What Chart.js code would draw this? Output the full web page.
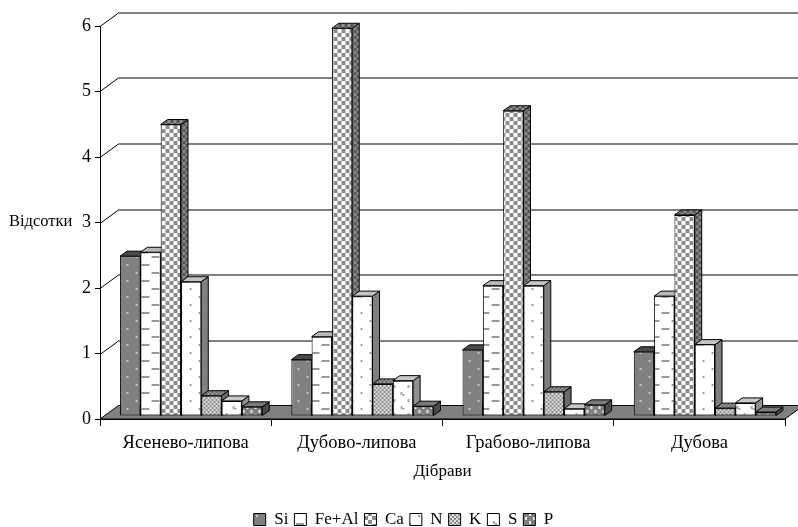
<!DOCTYPE html>
<html>
<head>
<meta charset="utf-8">
<style>
  html, body { margin: 0; padding: 0; background: #fff; }
  canvas { display: block; }
</style>
<script src="https://cdn.jsdelivr.net/npm/chart.js@4"></script>
</head>
<body>
<canvas id="chart" width="798" height="527"></canvas>
<script>
const categories = ['Ясенево-липова', 'Дубово-липова', 'Грабово-липова', 'Дубова'];
const si   = [2.44, 0.86, 1.01, 0.98];
const feAl = [2.50, 1.21, 1.99, 1.83];
const ca   = [4.45, 5.92, 4.66, 3.07];
const n    = [2.05, 1.83, 1.99, 1.09];
const k    = [0.31, 0.49, 0.37, 0.12];
const s    = [0.23, 0.54, 0.11, 0.20];
const p    = [0.14, 0.15, 0.17, 0.06];

const FONT = 'Liberation Serif, Times New Roman, serif';
// offset of the bars from the front edge of the floor, and their own depth
const BAR_SHIFT = { x: 5.5, y: -3 };
const BAR_DEPTH = { x: 7, y: -5 };
// depth of the whole plot box
const WALL_DEPTH = { x: 18.5, y: -13.5 };

function tile(w, h, bg, paint) {
    const c = document.createElement('canvas');
    c.width = w;
    c.height = h;
    const g = c.getContext('2d');
    g.fillStyle = bg;
    g.fillRect(0, 0, w, h);
    paint(g);
    return g.createPattern(c, 'repeat');
}

function checker(size, bg, fg) {
    return tile(size * 2, size * 2, bg, g => {
        g.fillStyle = fg;
        g.fillRect(0, 0, size, size);
        g.fillRect(size, size, size, size);
    });
}

function dots(bg, fg) {
    return tile(18, 16, bg, g => {
        g.fillStyle = fg;
        g.fillRect(4, 3, 2, 2);
        g.fillRect(13, 11, 2, 2);
    });
}

const series = [
    { label: 'Si', data: si, fill: dots('#808080', '#c8c8c8'), top: '#4a4a4a', side: '#5a5a5a' },
    { label: 'Fe+Al', data: feAl, fill: tile(20, 16, '#fff', g => {
        g.fillStyle = '#999';
        g.fillRect(6, 3, 8, 2);
        g.fillRect(16, 11, 4, 2);
        g.fillRect(0, 11, 4, 2);
    }), top: '#b8b8b8', side: '#808080' },
    { label: 'Ca', data: ca, fill: checker(4, '#fff', '#8c8c8c'), top: checker(3, '#909090', '#555'), side: checker(3, '#555', '#888') },
    { label: 'N', data: n, fill: dots('#fff', '#999'), top: '#c4c4c4', side: '#808080' },
    { label: 'K', data: k, fill: checker(2, '#e0e0e0', '#8c8c8c'), top: checker(2, '#999', '#666'), side: '#6a6a6a' },
    { label: 'S', data: s, fill: tile(14, 14, '#fff', g => {
        g.fillStyle = '#aaa';
        g.fillRect(3, 3, 2, 3);
        g.fillRect(5, 5, 2, 2);
        g.fillRect(10, 10, 2, 3);
    }), top: '#c8c8c8', side: '#909090' },
    { label: 'P', data: p, fill: tile(8, 8, '#808080', g => {
        g.fillStyle = '#e8e8e8';
        g.fillRect(1, 1, 2, 3);
        g.fillRect(5, 5, 2, 3);
    }), top: '#7a7a7a', side: '#4a4a4a' }
];

function poly(ctx, points, fill) {
    ctx.beginPath();
    points.forEach((pt, i) => i ? ctx.lineTo(pt[0], pt[1]) : ctx.moveTo(pt[0], pt[1]));
    ctx.closePath();
    ctx.fillStyle = fill;
    ctx.fill();
    ctx.stroke();
}

function drawBox(chart) {
    const ctx = chart.ctx;
    const area = chart.chartArea;
    const yScale = chart.scales.y;
    ctx.save();
    ctx.strokeStyle = '#000';
    ctx.lineWidth = 1;
    yScale.ticks.forEach(t => {
        const y = Math.round(yScale.getPixelForValue(t.value)) + 0.5;
        if (t.value === 0) return;
        ctx.beginPath();
        ctx.moveTo(area.left, y);
        ctx.lineTo(area.left + WALL_DEPTH.x, y + WALL_DEPTH.y);
        ctx.lineTo(chart.width, y + WALL_DEPTH.y);
        ctx.stroke();
    });
    poly(ctx, [
        [area.left, area.bottom],
        [area.right, area.bottom],
        [area.right + WALL_DEPTH.x, area.bottom + WALL_DEPTH.y],
        [area.left + WALL_DEPTH.x, area.bottom + WALL_DEPTH.y]
    ], '#808080');
    // label of the value axis stays horizontal
    ctx.fillStyle = '#000';
    ctx.font = '16.5px ' + FONT;
    ctx.textAlign = 'left';
    ctx.textBaseline = 'middle';
    ctx.fillText('Відсотки', 9, 222);
    ctx.restore();
}

function drawBarFaces(ctx, meta, style) {
    ctx.strokeStyle = '#000';
    ctx.lineWidth = 1;
    meta.data.forEach(bar => {
        const left = bar.x - bar.width / 2;
        const right = bar.x + bar.width / 2;
        poly(ctx, [
            [right, bar.y],
            [right + BAR_DEPTH.x, bar.y + BAR_DEPTH.y],
            [right + BAR_DEPTH.x, bar.base + BAR_DEPTH.y],
            [right, bar.base]
        ], style.side);
        poly(ctx, [
            [left, bar.y],
            [left + BAR_DEPTH.x, bar.y + BAR_DEPTH.y],
            [right + BAR_DEPTH.x, bar.y + BAR_DEPTH.y],
            [right, bar.y]
        ], style.top);
    });
}

// Chart.js paints the last dataset first; here each bar has to cover the
// side of the one on its left, so the datasets are painted by hand left to right
const boxPlugin = {
    id: 'box3d',
    afterLayout(chart) {
        // legend row sits a little right of centre
        chart.legend.left += 22;
    },
    beforeDatasetsDraw(chart) {
        const ctx = chart.ctx;
        drawBox(chart);
        series.forEach((style, i) => {
            const meta = chart.getDatasetMeta(i);
            ctx.save();
            ctx.translate(BAR_SHIFT.x, BAR_SHIFT.y);
            drawBarFaces(ctx, meta, style);
            meta.controller.draw();
            ctx.restore();
        });
        return false;
    }
};

new Chart(document.querySelector('#chart'), {
    type: 'bar',
    data: {
        labels: categories,
        datasets: series.map(d => ({
            label: d.label,
            data: d.data,
            backgroundColor: d.fill,
            borderColor: '#000',
            borderWidth: 1,
            borderSkipped: false
        }))
    },
    plugins: [boxPlugin],
    options: {
        responsive: false,
        animation: false,
        barPercentage: 1,
        categoryPercentage: 0.83,
        layout: { padding: { top: 26, right: 13, left: 0, bottom: -11 } },
        plugins: {
            tooltip: { enabled: false },
            legend: {
                position: 'bottom',
                labels: {
                    color: '#000',
                    font: { family: FONT, size: 17 },
                    boxWidth: 12,
                    boxHeight: 12,
                    padding: 6,
                }
            }
        },
        scales: {
            x: {
                grid: { drawOnChartArea: false, color: '#000', tickLength: 7 },
                border: { color: '#000' },
                ticks: { color: '#000', font: { family: FONT, size: 18.5 }, padding: 6, maxRotation: 0 },
                title: { display: true, text: 'Дібрави', color: '#000', font: { family: FONT, size: 17 }, padding: { top: 6, bottom: 23 } },
                afterFit: scale => { scale.height = 86; }
            },
            y: {
                min: 0,
                max: 6,
                grid: { drawOnChartArea: false, color: '#000', tickLength: 5 },
                border: { color: '#000' },
                ticks: { color: '#000', font: { family: FONT, size: 18 }, stepSize: 1, padding: 4 },
                afterFit: scale => { scale.width = 100; }
            }
        }
    }
});
</script>
</body>
</html>
